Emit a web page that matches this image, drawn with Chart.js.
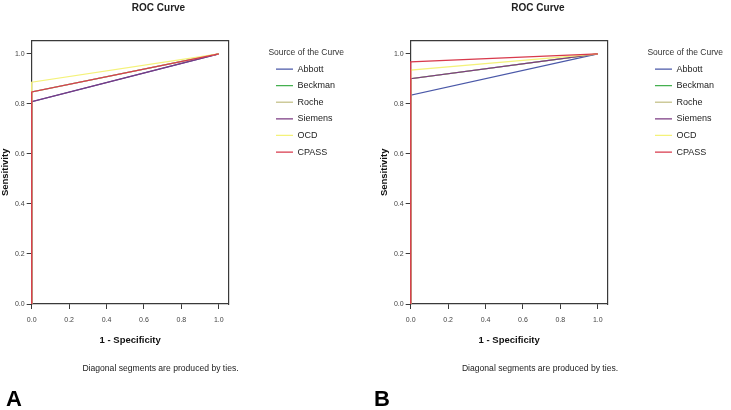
<!DOCTYPE html>
<html>
<head>
<meta charset="utf-8">
<script src="https://cdn.jsdelivr.net/npm/chart.js@4.4.0/dist/chart.umd.min.js"></script>
<style>
  html, body { margin: 0; padding: 0; background: #fff; }
  #wrap { position: relative; width: 731px; height: 410px; overflow: hidden; background: #fff;
          font-family: "Liberation Sans", Arial, sans-serif; color: #222; }
  canvas { position: absolute; top: 0; }
  .ttl { position: absolute; top: 1.5px; font-weight: bold; font-size: 10px; line-height: 12px;
         width: 200px; text-align: center; white-space: nowrap; }
  .note { position: absolute; top: 362px; font-size: 8.6px; line-height: 12px;
          width: 240px; text-align: center; white-space: nowrap; }
  .lab { position: absolute; top: 386px; font-weight: bold; font-size: 22px; line-height: 26px; color: #000; }
</style>
</head>
<body>
<div id="wrap">
  <canvas id="cA" width="352" height="410" style="left:0px"></canvas>
  <canvas id="cB" width="352" height="410" style="left:379px"></canvas>
  <div class="ttl" style="left:58.5px">ROC Curve</div>
  <div class="ttl" style="left:438px">ROC Curve</div>
  <div class="note" style="left:40.5px">Diagonal segments are produced by ties.</div>
  <div class="note" style="left:420px">Diagonal segments are produced by ties.</div>
  <div class="lab" style="left:6px">A</div>
  <div class="lab" style="left:374px">B</div>
</div>
<script>
// ---- data ----
const categories = ['Abbott', 'Beckman', 'Roche', 'Siemens', 'OCD', 'CPASS'];
const seriesColors = ['#4a58a8', '#45b04f', '#cdca9a', '#7b3a82', '#f4f27a', '#d83a4c'];
const sensitivityA = [0.809, 0.848, 0.848, 0.809, 0.887, 0.848];
const sensitivityB = [0.835, 0.901, 0.901, 0.901, 0.935, 0.968];
const curveFpr = [0, 0, 1];          // 1 - specificity at each curve vertex
const tickValues = [0, 0.2, 0.4, 0.6, 0.8, 1.0];
const tickLabels = ['0.0', '0.2', '0.4', '0.6', '0.8', '1.0'];
const axisMax = 1.053;

const FONT = '"Liberation Sans", Arial, sans-serif';
const AXC = '#3a3a3a';

function buildDatasets(sens) {
  const ds = categories.map((name, i) => ({
    label: name,
    data: curveFpr.map((fx, k) => ({ x: fx, y: k === 0 ? 0 : (k === 1 ? sens[i] : 1) })),
    borderColor: seriesColors[i],
    backgroundColor: seriesColors[i],
    borderWidth: 1.3,
    pointRadius: 0,
    fill: false,
    tension: 0,
    clip: false
  }));
  return ds.reverse(); // last series drawn on top
}

function fixTicks(scale) {
  scale.ticks = tickValues.map(v => ({ value: v }));
}

function makeChart(id, sens) {
  new Chart(document.getElementById(id), {
    type: 'line',
    data: { datasets: buildDatasets(sens) },
    options: {
      responsive: false,
      animation: false,
      devicePixelRatio: 1,
      layout: { padding: { top: 40.7, left: 0, right: 7, bottom: 56 } },
      plugins: {
        tooltip: { enabled: false },
        title: { display: false },
        legend: {
          display: true,
          position: 'right',
          align: 'start',
          reverse: true,
          maxWidth: 160,
          title: {
            display: true,
            text: 'Source of the Curve',
            position: 'start',
            color: '#333',
            font: { family: FONT, size: 8.5, lineHeight: 1 },
            padding: { top: 7.75, bottom: 0 }
          },
          labels: {
            usePointStyle: true,
            pointStyle: 'line',
            pointStyleWidth: 17,
            padding: 7.6,
            color: '#222',
            font: { family: FONT, size: 9 }
          }
        }
      },
      scales: {
        x: {
          type: 'linear',
          position: 'bottom',
          min: 0,
          max: axisMax,
          afterFit: s => { s.height = 50; },
          afterBuildTicks: fixTicks,
          grid: { drawOnChartArea: false, drawTicks: true, tickLength: 5, color: AXC, lineWidth: 1 },
          border: { display: true, color: AXC, width: 1.2 },
          ticks: {
            padding: 6.8,
            color: '#444',
            font: { family: FONT, size: 7 },
            maxRotation: 0,
            autoSkip: false,
            callback: (v) => tickLabels[tickValues.indexOf(v)]
          },
          title: {
            display: true,
            text: '1 - Specificity',
            color: '#111',
            font: { family: FONT, size: 9.5, weight: 'bold' },
            padding: { top: 4, bottom: 7.6 }
          }
        },
        y: {
          type: 'linear',
          position: 'left',
          min: 0,
          max: axisMax,
          afterFit: s => { s.width = 31.7; },
          afterBuildTicks: fixTicks,
          grid: { drawOnChartArea: false, drawTicks: true, tickLength: 5, color: AXC, lineWidth: 1 },
          border: { display: true, color: AXC, width: 1.2 },
          ticks: {
            padding: 2,
            color: '#444',
            font: { family: FONT, size: 7 },
            autoSkip: false,
            callback: (v) => tickLabels[tickValues.indexOf(v)]
          },
          title: {
            display: true,
            text: 'Sensitivity',
            color: '#111',
            font: { family: FONT, size: 9.5, weight: 'bold' },
            padding: { top: 0, bottom: 0 }
          }
        },
        xTop: {
          type: 'linear',
          position: 'top',
          min: 0,
          max: axisMax,
          afterFit: s => { s.height = 0; },
          grid: { display: false, drawOnChartArea: false, drawTicks: false },
          border: { display: true, color: AXC, width: 1.2 },
          ticks: { display: false }
        },
        yRight: {
          type: 'linear',
          position: 'right',
          min: 0,
          max: axisMax,
          afterFit: s => { s.width = 39.7; },
          grid: { display: false, drawOnChartArea: false, drawTicks: false },
          border: { display: true, color: AXC, width: 1.2 },
          ticks: { display: false }
        }
      }
    }
  });
}

makeChart('cA', sensitivityA);
makeChart('cB', sensitivityB);
</script>
</body>
</html>
